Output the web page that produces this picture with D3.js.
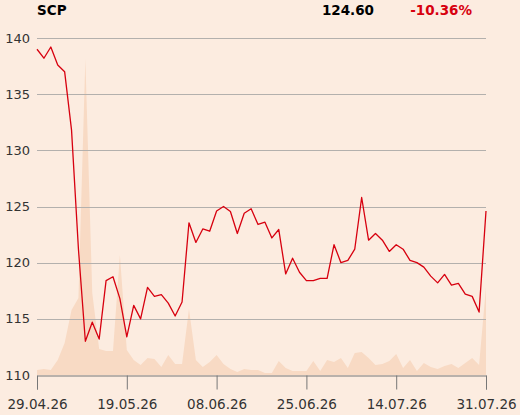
<!DOCTYPE html>
<html><head><meta charset="utf-8">
<script src="https://cdn.jsdelivr.net/npm/d3@7"></script>
<style>
html,body{margin:0;padding:0;background:#fcece0;}
svg{display:block;font-family:"DejaVu Sans",sans-serif;}
</style></head>
<body>
<svg id="chart" width="520" height="415"></svg>
<script>
const title = "SCP";
const lastValue = "124.60";
const changePct = "-10.36%";
const xTickLabels = ["29.04.26","19.05.26","08.06.26","25.06.26","14.07.26","31.07.26"];
const xTickIndex = [0,13,26,39,52,65];
const yTicks = [110,115,120,125,130,135,140];
const prices = [139.0,138.2,139.2,137.6,137.0,131.8,121.2,113.0,114.7,113.2,118.4,118.75,116.8,113.4,116.2,115.0,
  117.8,117.0,117.15,116.4,115.25,116.5,123.55,121.8,123.0,122.8,124.6,125.0,124.55,122.6,124.4,124.8,
  123.4,123.6,122.2,122.95,119.0,120.4,119.15,118.4,118.4,118.6,118.6,121.6,120.0,120.2,121.2,125.8,
  122.0,122.6,122.0,121.0,121.6,121.2,120.2,120.0,119.6,118.8,118.2,118.95,118.0,118.15,117.2,117.0,115.6,124.6];
const volumes = [5,6,5,15,32,65,77,316,82,26,24,24,120,25,15,10,17,16,8,20,11,11,66,15,8,13,20,11,6,3,6,5,5,2,2,14,
  7,4,4,4,14,4,15,13,17,7,22,23,17,10,11,14,21,7,15,4,12,8,6,9,11,7,12,17,10,88];

const svg = d3.select("#chart");
const L = 37, R = 486, T = 38, B = 375;
const x = d3.scaleLinear().domain([0, prices.length-1]).range([L, R]);
const y = d3.scaleLinear().domain([110, 140]).range([B, T]);
const yv = d3.scaleLinear().domain([0, 316]).range([B, 59]);

// volume area
svg.append("path")
  .datum(volumes)
  .attr("fill", "#f8dac4")
  .attr("d", d3.area().x((d,i)=>x(i)).y0(B).y1(d=>yv(d)));

// gridlines
svg.append("g").selectAll("line").data(yTicks.filter(v=>v>110)).join("line")
  .attr("x1", L).attr("x2", R)
  .attr("y1", d=>Math.round(y(d))+0.5).attr("y2", d=>Math.round(y(d))+0.5)
  .attr("stroke", "#b3b0ad").attr("stroke-width", 1);

// y labels
svg.append("g").selectAll("text").data(yTicks).join("text")
  .attr("x", 30).attr("y", d=>y(d)).attr("dy", "0.35em")
  .attr("text-anchor", "end").attr("font-size", 13).attr("fill", "#333")
  .text(d=>d);

// x axis
const xAxis = d3.axisBottom(x).tickValues(xTickIndex)
  .tickFormat((d,i)=>xTickLabels[i]).tickSize(14).tickPadding(10);
const gx = svg.append("g").attr("transform", `translate(0,${B+0.5})`).call(xAxis);
gx.select(".domain").attr("stroke", "#777");
gx.selectAll(".tick line").attr("stroke", "#777");
gx.selectAll(".tick text").attr("font-size", 13.5).attr("fill", "#333")
  .attr("font-family", "DejaVu Sans, sans-serif");

// price line
svg.append("path")
  .datum(prices)
  .attr("fill", "none").attr("stroke", "#d7000f").attr("stroke-width", 1.3)
  .attr("stroke-linejoin", "round")
  .attr("d", d3.line().x((d,i)=>x(i)).y(d=>y(d)));

// header
svg.append("text").attr("x", 37).attr("y", 15).attr("font-size", 13.5)
  .attr("font-weight", "bold").attr("fill", "#000").text(title);
svg.append("text").attr("x", 374).attr("y", 15).attr("font-size", 13.5).attr("text-anchor","end")
  .attr("font-weight", "bold").attr("fill", "#000").text(lastValue);
svg.append("text").attr("x", 472).attr("y", 15).attr("font-size", 13.5).attr("text-anchor","end")
  .attr("font-weight", "bold").attr("fill", "#d7000f").text(changePct);
</script>
</body></html>
